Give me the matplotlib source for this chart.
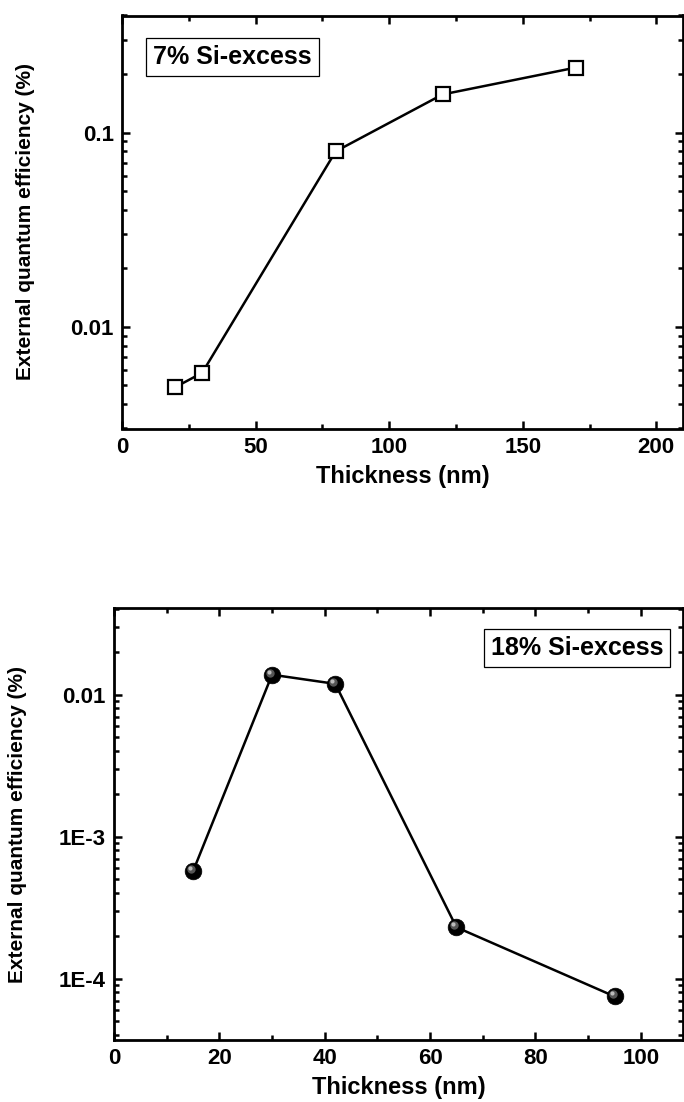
"""
EQE vs. layer thickness for 7% and 18% Si-excess devices
"""

import matplotlib
matplotlib.use("Agg")
import matplotlib.pyplot as plt
import matplotlib.transforms as mtransforms
import numpy as np
from matplotlib.ticker import FixedLocator, LogLocator, MultipleLocator, NullFormatter

# 7% Si-excess
thick_7 = [20, 30, 80, 120, 170]
eqe_7 = [0.0049, 0.0058, 0.080, 0.157, 0.216]

# 18% Si-excess
thick_18 = [15, 30, 42, 65, 95]
eqe_18 = [5.7e-4, 0.0138, 0.0119, 2.3e-4, 7.5e-5]

top_yticks = [0.01, 0.1]
top_ylabels = ["0.01", "0.1"]
bot_yticks = [1e-4, 1e-3, 1e-2]
bot_ylabels = ["1E-4", "1E-3", "0.01"]

plt.rcParams["font.family"] = ["Liberation Sans", "DejaVu Sans"]
plt.rcParams["font.weight"] = "bold"

fig = plt.figure(figsize=(6.84, 11.02), dpi=100)
W, H = 684, 1102


def add_axes_px(left, top, right, bottom):
    return fig.add_axes([left / W, 1 - bottom / H, (right - left) / W, (bottom - top) / H])


def style_axes(ax):
    for sp in ax.spines.values():
        sp.set_linewidth(2.0)
    ax.tick_params(which="both", direction="in", width=1.8, top=True, right=True,
                   labelsize=16, pad=6)
    ax.tick_params(which="major", length=6)
    ax.tick_params(which="minor", length=3.5)
    for lab in ax.get_xticklabels() + ax.get_yticklabels():
        lab.set_fontweight("bold")


# Top panel
ax1 = add_axes_px(122, 15.5, 683, 428.5)
ax1.plot(thick_7, eqe_7, "-", color="black", lw=1.8, marker="s", ms=9.5,
         mfc="white", mec="black", mew=1.6)
ax1.set_yscale("log")
ax1.set_xlim(0, 210)
ax1.set_ylim(0.003, 0.4)
ax1.xaxis.set_major_locator(MultipleLocator(50))
ax1.xaxis.set_minor_locator(MultipleLocator(25))
ax1.yaxis.set_major_locator(FixedLocator(top_yticks))
ax1.set_yticklabels(top_ylabels)
ax1.yaxis.set_minor_locator(LogLocator(base=10, subs=np.arange(2, 10)))
ax1.yaxis.set_minor_formatter(NullFormatter())
style_axes(ax1)
ax1.set_xlabel("Thickness (nm)", fontsize=17, fontweight="bold", labelpad=5)
ax1.set_ylabel("External quantum efficiency (%)", fontsize=15, fontweight="bold")
ax1.yaxis.set_label_coords(-0.155, 0.5)
ax1.text(0.0553, 0.929, "7% Si-excess", transform=ax1.transAxes, fontsize=18,
         fontweight="bold", ha="left", va="top",
         bbox=dict(boxstyle="square,pad=0.28", fc="white", ec="black", lw=0.9))

# Bottom panel
ax2 = add_axes_px(114, 608.3, 683, 1040)
ax2.plot(thick_18, eqe_18, "-", color="black", lw=1.8, zorder=2)
# shaded sphere markers
ax2.plot(thick_18, eqe_18, "o", ms=12, mfc="black", mec="black", mew=0.5, ls="none", zorder=3)
shift = mtransforms.offset_copy(ax2.transData, fig=fig, x=-2, y=2, units="dots")
ax2.plot(thick_18, eqe_18, "o", ms=6, mfc="#555555", mec="none", ls="none",
         transform=shift, zorder=4)
shift2 = mtransforms.offset_copy(ax2.transData, fig=fig, x=-3, y=3, units="dots")
ax2.plot(thick_18, eqe_18, "o", ms=3, mfc="#bbbbbb", mec="none", ls="none",
         transform=shift2, zorder=5)
ax2.set_yscale("log")
ax2.set_xlim(0, 108)
ax2.set_ylim(3.7e-5, 0.0405)
ax2.xaxis.set_major_locator(MultipleLocator(20))
ax2.xaxis.set_minor_locator(MultipleLocator(10))
ax2.yaxis.set_major_locator(FixedLocator(bot_yticks))
ax2.set_yticklabels(bot_ylabels)
ax2.yaxis.set_minor_locator(LogLocator(base=10, subs=np.arange(2, 10)))
ax2.yaxis.set_minor_formatter(NullFormatter())
style_axes(ax2)
ax2.set_xlabel("Thickness (nm)", fontsize=17, fontweight="bold", labelpad=5)
ax2.set_ylabel("External quantum efficiency (%)", fontsize=15, fontweight="bold")
ax2.yaxis.set_label_coords(-0.153, 0.5)
ax2.text(0.9657, 0.936, "18% Si-excess", transform=ax2.transAxes, fontsize=18,
         fontweight="bold", ha="right", va="top",
         bbox=dict(boxstyle="square,pad=0.28", fc="white", ec="black", lw=0.9))

plt.savefig("out.png", dpi=100)
